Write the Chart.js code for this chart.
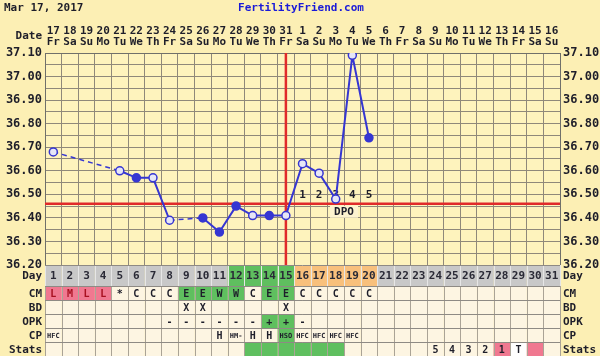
<!DOCTYPE html>
<html>
<head>
<meta charset="utf-8">
<script src="https://cdn.jsdelivr.net/npm/chart.js@4.4.0/dist/chart.umd.min.js"></script>
<style>
  html, body { margin: 0; padding: 0; background: #fcefb4; }
  canvas { display: block; }
</style>
</head>
<body>
<canvas id="bbt" width="600" height="356"></canvas>
<script>
// chart values
const chartDate = 'Mar 17, 2017';
const siteName = 'FertilityFriend.com';
const cycleDays = Array.from({ length: 31 }, (_, i) => i + 1);
const dateNums = ['17','18','19','20','21','22','23','24','25','26','27','28','29','30','31',
                  '1','2','3','4','5','6','7','8','9','10','11','12','13','14','15','16'];
const weekDays = ['Fr','Sa','Su','Mo','Tu','We','Th','Fr','Sa','Su','Mo','Tu','We','Th','Fr',
                  'Sa','Su','Mo','Tu','We','Th','Fr','Sa','Su','Mo','Tu','We','Th','Fr','Sa','Su'];
const temps = [36.68, null, null, null, 36.60, 36.57, 36.57, 36.39, null, 36.40,
               36.34, 36.45, 36.41, 36.41, 36.41, 36.63, 36.59, 36.48, 37.09, 36.74,
               null, null, null, null, null, null, null, null, null, null, null];
const filledDays = [6, 10, 11, 12, 14, 20];
const coverline = 36.46;
const ovulationDay = 15;
const dpoDays = [16, 17, 18, 19, 20];
const tempMin = 36.20, tempMax = 37.10;

const fertileDays = [12, 13, 14, 15];
const cmMarks = ['L','M','L','L','*','C','C','C','E','E','W','W','C','E','E','C','C','C','C','C',
                 '','','','','','','','','','',''];
const bdDays = [9, 10, 15];
const opkMarks = ['','','','','','','','-','-','-','-','-','-','+','+','-',
                  '','','','','','','','','','','','','','',''];
const cpMarks = ['HFC','','','','','','','','','','H','HM-','H','H','HSO','HFC','HFC','HFC','HFC',
                 '','','','','','','','','','','',''];
const statsFertileDays = [13, 14, 15, 16, 17, 18];
const statsMarks = ['','','','','','','','','','','','','','','','','','','','','','','',
                    '5','4','3','2','1','T','',''];
const periodDays = [28, 30];
const testDay = 29;

const FONT = "'DejaVu Sans Mono', monospace";
const INK = '#1e1e2a';
const BLUE = '#3636d2';
const RED = '#e02a2a';
const GREEN = '#5fbf5f';
const ORANGE = '#f8c07c';
const PINK = '#f07890';
const GRAY = '#c8c8c8';
const CREAM = '#fdf5e2';

function tempLabel(v) {
  const r = Math.round(v * 100);
  return r % 10 === 0 ? (r / 100).toFixed(2) : '';
}

// dashed across days with no reading
const gapDash = ctx => (ctx.p0.skip || ctx.p1.skip ? [5, 4] : undefined);

const backdrop = {
  id: 'backdrop',
  beforeDraw(chart) {
    const { ctx, chartArea: a } = chart;
    ctx.save();
    ctx.fillStyle = '#fcefb4';
    ctx.fillRect(0, 0, chart.width, chart.height);
    ctx.fillStyle = '#fef3bd';
    ctx.fillRect(a.left, a.top, a.right - a.left, a.bottom - a.top);
    ctx.restore();
  }
};

const markers = {
  id: 'markers',
  beforeDatasetsDraw(chart) {
    const { ctx, chartArea: a, scales: { x, y } } = chart;
    ctx.save();
    ctx.strokeStyle = RED;
    ctx.lineWidth = 2.5;
    const cy = y.getPixelForValue(coverline);
    ctx.beginPath(); ctx.moveTo(a.left, cy); ctx.lineTo(a.right, cy); ctx.stroke();
    const ox = x.getPixelForValue(ovulationDay - 1);
    ctx.beginPath(); ctx.moveTo(ox, a.top); ctx.lineTo(ox, a.bottom); ctx.stroke();

    ctx.font = 'bold 11px ' + FONT;
    ctx.fillStyle = INK;
    ctx.textAlign = 'center';
    ctx.textBaseline = 'middle';
    dpoDays.forEach((d, i) => ctx.fillText(String(i + 1), x.getPixelForValue(d - 1), cy - 9));
    const mx = (x.getPixelForValue(dpoDays[2] - 1) + x.getPixelForValue(dpoDays[3] - 1)) / 2;
    ctx.fillStyle = '#fdf3d0';
    ctx.fillRect(mx - 14, cy + 2, 28, 12);
    ctx.fillStyle = INK;
    ctx.fillText('DPO', mx, cy + 8);
    ctx.restore();
  }
};

const table = {
  id: 'table',
  afterDraw(chart) {
    const { ctx, chartArea: a, scales: { x } } = chart;
    const colW = (a.right - a.left) / cycleDays.length;
    const top = a.bottom;
    const rows = [
      { label: 'Day', h: 21 }, { label: 'CM', h: 14 }, { label: 'BD', h: 14 },
      { label: 'OPK', h: 14 }, { label: 'CP', h: 14 }, { label: 'Stats', h: 14 }
    ];
    let ry = top;
    ctx.save();
    rows.forEach((row, r) => {
      cycleDays.forEach((d, i) => {
        const cx = x.getPixelForValue(i);
        const left = cx - colW / 2;
        let fill = CREAM, text = '', color = INK, font = 'bold 10px ' + FONT;
        if (r === 0) {
          fill = fertileDays.includes(d) ? GREEN : (dpoDays.includes(d) ? ORANGE : GRAY);
          text = String(d);
          color = '#2a2a36';
          font = 'bold 11px ' + FONT;
        } else if (r === 1) {
          text = cmMarks[i];
          if ('LMH'.includes(text) && text) { fill = PINK; color = '#a81020'; }
          else if (text === 'E' || text === 'W') fill = GREEN;
        } else if (r === 2) {
          text = bdDays.includes(d) ? 'X' : '';
        } else if (r === 3) {
          text = opkMarks[i];
          if (text === '+') fill = GREEN;
        } else if (r === 4) {
          text = cpMarks[i];
          if (text === 'HSO') fill = GREEN;
          font = (text.length > 1 ? 'bold 7px ' : 'bold 10px ') + FONT;
        } else {
          text = statsMarks[i];
          if (statsFertileDays.includes(d)) fill = GREEN;
          else if (periodDays.includes(d)) fill = PINK;
          else if (d === testDay) fill = '#ffffff';
        }
        ctx.fillStyle = fill;
        ctx.fillRect(left, ry, colW, row.h);
        ctx.strokeStyle = r === 0 ? '#e6e6e6' : '#aaa396';
        ctx.lineWidth = 1;
        ctx.strokeRect(Math.round(left) + 0.5, Math.round(ry) + 0.5, Math.round(colW), row.h);
        if (text) {
          ctx.fillStyle = color;
          ctx.font = font;
          ctx.textAlign = 'center';
          ctx.textBaseline = 'middle';
          ctx.fillText(text, cx, ry + row.h / 2 + 1);
        }
      });
      ctx.strokeStyle = '#8e8a84';
      ctx.beginPath();
      ctx.moveTo(a.left, Math.round(ry) + 0.5); ctx.lineTo(a.right, Math.round(ry) + 0.5);
      ctx.stroke();
      ctx.fillStyle = INK;
      ctx.font = 'bold 11px ' + FONT;
      ctx.textBaseline = 'middle';
      ctx.textAlign = 'right';
      ctx.fillText(row.label, a.left - 3, ry + row.h / 2 + 1);
      ctx.textAlign = 'left';
      ctx.fillText(row.label, a.right + 3, ry + row.h / 2 + 1);
      ry += row.h;
    });

    ctx.font = 'bold 11px ' + FONT;
    ctx.textBaseline = 'middle';
    ctx.textAlign = 'left';
    ctx.fillStyle = INK;
    ctx.fillText(chartDate, 4, 8);
    ctx.fillStyle = '#1a1ad8';
    ctx.textAlign = 'center';
    ctx.fillText(siteName, 301, 8);
    ctx.fillStyle = INK;
    ctx.textAlign = 'right';
    ctx.fillText('Date', a.left - 3, 36);
    ctx.restore();
  }
};

const tickFont = { family: FONT, size: 12, weight: 'bold' };

new Chart(document.getElementById('bbt'), {
  type: 'line',
  data: {
    labels: cycleDays.map((d, i) => [dateNums[i], weekDays[i]]),
    datasets: [{
      data: temps,
      spanGaps: true,
      borderColor: BLUE,
      borderWidth: 2,
      tension: 0,
      pointRadius: 4,
      pointHoverRadius: 4,
      pointBorderWidth: 1.5,
      pointBorderColor: BLUE,
      pointBackgroundColor: ctx => filledDays.includes(ctx.dataIndex + 1) ? BLUE : '#e6e6f6',
      segment: { borderDash: gapDash, borderWidth: ctx => (gapDash(ctx) ? 1.5 : 2) }
    }]
  },
  options: {
    responsive: false,
    animation: false,
    devicePixelRatio: 1,
    layout: { padding: { left: 0, right: 0, top: 0, bottom: 91 } },
    plugins: { legend: { display: false }, tooltip: { enabled: false } },
    scales: {
      x: {
        position: 'top',
        offset: true,
        grid: { offset: true, color: '#8f887a', drawTicks: false },
        border: { color: '#70706a' },
        ticks: {
          font: { family: FONT, size: 11, weight: 'bold', lineHeight: 1.05 },
          color: INK, padding: 5, maxRotation: 0, autoSkip: false
        },
        afterFit: s => { s.height = 53; }
      },
      y: {
        position: 'left',
        min: tempMin, max: tempMax,
        grid: { color: '#8f887a', drawTicks: false },
        border: { color: '#70706a' },
        ticks: { stepSize: 0.05, callback: tempLabel, font: tickFont, color: INK, padding: 3, autoSkip: false },
        afterFit: s => { s.width = 45; }
      },
      y2: {
        position: 'right',
        min: tempMin, max: tempMax,
        grid: { display: false, drawTicks: false },
        border: { color: '#70706a' },
        ticks: { stepSize: 0.05, callback: tempLabel, font: tickFont, color: INK, padding: 3, autoSkip: false },
        afterFit: s => { s.width = 40; }
      }
    }
  },
  plugins: [backdrop, markers, table]
});
</script>
</body>
</html>
